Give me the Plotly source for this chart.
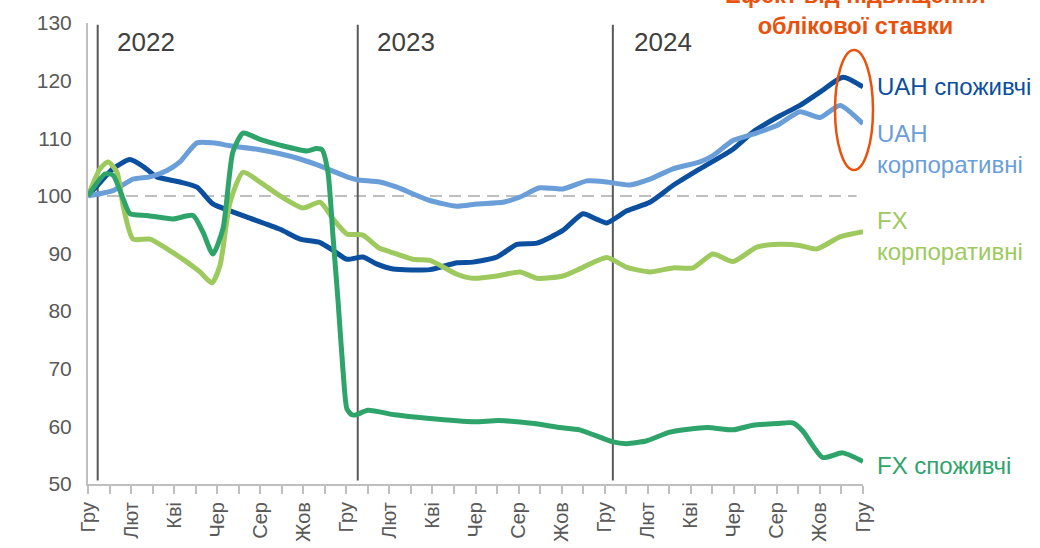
import plotly.graph_objects as go

# ---- data (x in months since Dec 2021) ----
tick_labels = ["Гру", "Лют", "Кві", "Чер", "Сер", "Жов",
               "Гру", "Лют", "Кві", "Чер", "Сер", "Жов",
               "Гру", "Лют", "Кві", "Чер", "Сер", "Жов", "Гру"]

uah_cons_m = [0, 0.6, 1.16, 1.95, 2.6, 3.2, 4.27, 5.06, 5.8, 6.6, 7.39, 8.92, 9.85, 10.78, 11.4,
              12.03, 12.77, 13.4, 14.17, 15.88, 17.14, 17.88, 19.0, 19.93, 20.85, 22.06, 22.99,
              23.6, 24.1, 25.03, 26.1, 27.17, 28.43, 29.96, 30.89, 32.14, 33.07, 34.0, 35.07, 36.0]
uah_cons_v = [100, 102.5, 104.7, 106.3, 105.0, 103.3, 102.4, 101.5, 98.6, 97.4, 96.3, 94.2, 92.5, 91.9, 90.5,
              89.0, 89.4, 88.2, 87.3, 87.2, 88.4, 88.5, 89.4, 91.6, 91.8, 94.0, 96.9,
              96.0, 95.3, 97.4, 98.9, 101.8, 104.7, 108.1, 111.1, 113.9, 115.7, 118.0, 120.6, 118.9]

uah_corp_m = [0, 1.16, 2.09, 2.88, 3.67, 4.27, 5.06, 5.8, 6.6, 7.85, 8.92, 9.85, 10.78, 12.03, 12.5,
              13.56, 14.35, 15.88, 17.14, 18.07, 19.28, 20.07, 20.99, 22.06, 23.18, 24.1, 25.17,
              26.1, 27.17, 28.43, 29.03, 29.96, 30.89, 32.0, 33.07, 34.0, 34.93, 36.0]
uah_corp_v = [100, 100.9, 102.9, 103.3, 104.4, 105.9, 109.2, 109.2, 108.7, 108.1, 107.3, 106.4, 105.2, 103.3, 102.8,
              102.4, 101.5, 99.2, 98.2, 98.6, 98.9, 99.8, 101.4, 101.2, 102.6, 102.4, 101.9,
              102.9, 104.7, 105.9, 107.0, 109.6, 110.7, 112.2, 114.6, 113.6, 115.7, 112.5]

fx_corp_m = [0, 0.56, 0.93, 1.35, 1.63, 2.09, 2.88, 3.67, 4.6, 5.2, 5.76, 6.13, 6.6, 7.2, 7.99, 8.92,
             9.99, 10.78, 11.38, 12.03, 12.77, 13.5, 14.03, 15.1, 15.88, 17.14, 17.88, 19.0, 20.07,
             20.85, 22.06, 22.99, 24.1, 25.03, 26.1, 27.17, 28.1, 29.03, 29.96, 31.07, 32.14, 33.07,
             33.86, 34.93, 36.0]
fx_corp_v = [100, 104.7, 105.9, 104.1, 98.3, 92.5, 92.5, 90.8, 88.5, 86.8, 84.9, 87.9, 98.9, 104.1, 102.4, 100,
             97.9, 98.9, 96.0, 93.4, 93.2, 91.0, 90.3, 89.0, 88.8, 86.4, 85.7, 86.1, 86.8,
             85.7, 86.1, 87.6, 89.3, 87.6, 86.8, 87.5, 87.5, 89.9, 88.6, 91.1, 91.6, 91.4,
             90.8, 92.9, 93.8]

fx_cons_m = [0, 0.79, 1.16, 1.63, 1.95, 2.74, 3.95, 4.88, 5.34, 5.8, 6.27, 6.73, 7.2, 7.99, 8.92,
             10.17, 10.6, 10.87, 11.15, 11.38, 11.61, 11.84, 12.03, 12.26, 12.45, 13.0, 14.26, 15.75,
             17.93, 19.09, 20.72, 21.92, 22.84, 24.38, 25.03, 25.96, 27.03, 28.75, 29.96, 30.89,
             32.0, 32.74, 33.2, 34.13, 35.06, 36.0]
fx_cons_v = [100, 103.8, 103.6, 99.5, 96.9, 96.6, 96.0, 96.6, 93.7, 89.9, 94.3, 107.6, 110.9, 109.8, 108.8,
             107.8, 108.2, 108.0, 104.0, 93.0, 82.0, 70.0, 63.0, 62.0, 62.0, 62.8, 62.0, 61.4,
             60.8, 61.0, 60.5, 59.8, 59.4, 57.3, 57.0, 57.5, 59.0, 59.8, 59.4, 60.2,
             60.5, 60.6, 59.2, 54.6, 55.4, 53.9]

year_labels = ["2022", "2023", "2024"]
year_lines_m = [0.45, 12.53, 24.38]

C_DBLUE = "#0b4f9e"
C_LBLUE = "#6a9ed8"
C_LGREEN = "#9dc95e"
C_DGREEN = "#2ea46b"
C_ORANGE = "#e8520c"
FONT = "Liberation Sans, Arial, sans-serif"

fig = go.Figure()
series = [
    (uah_cons_m, uah_cons_v, C_DBLUE),
    (uah_corp_m, uah_corp_v, C_LBLUE),
    (fx_corp_m, fx_corp_v, C_LGREEN),
    (fx_cons_m, fx_cons_v, C_DGREEN),
]
for xm, yv, col in series:
    fig.add_trace(go.Scatter(x=xm, y=yv, mode="lines",
                             line=dict(color=col, width=5, shape="spline", smoothing=0.6),
                             showlegend=False, hoverinfo="skip"))

shapes = []
# dashed reference at 100
shapes.append(dict(type="line", xref="x", yref="y", x0=0, x1=35.7, y0=100, y1=100,
                   line=dict(color="#bfbfbf", width=2, dash="12px,7px"), layer="below"))
for xm in year_lines_m:
    shapes.append(dict(type="line", xref="x", yref="y", x0=xm, x1=xm, y0=50.6, y1=129.7,
                       line=dict(color="#595959", width=2), layer="below"))
# ellipse highlight
shapes.append(dict(type="circle", xref="paper", yref="paper",
                   x0=0.9639, x1=1.0129, y0=0.6811, y1=0.9414,
                   line=dict(color=C_ORANGE, width=2.5)))

annotations = []
for lbl, xp in zip(year_labels, [0.0348, 0.3703, 0.7019]):
    annotations.append(dict(text=lbl, xref="paper", yref="paper", x=xp, y=0.9588,
                            xanchor="left", yanchor="middle", showarrow=False,
                            font=dict(family=FONT, size=26, color="#404040")))

right_labels = [
    ("UAH споживчі", 0.8633, C_DBLUE),
    ("UAH<br>корпоративні", 0.7267, C_LBLUE),
    ("FX<br>корпоративні", 0.5369, C_LGREEN),
    ("FX споживчі", 0.0412, C_DGREEN),
]
for txt, yp, col in right_labels:
    annotations.append(dict(text=txt, xref="paper", yref="paper", x=1.016, y=yp,
                            xanchor="left", yanchor="middle", align="left", showarrow=False,
                            font=dict(family=FONT, size=24, color=col)))

annotations.append(dict(text="<b>Ефект від підвищення<br>облікової ставки</b>",
                        xref="paper", yref="paper", x=0.9897, y=1.028,
                        xanchor="center", yanchor="middle", align="center", showarrow=False,
                        font=dict(family=FONT, size=23.5, color=C_ORANGE)))

tickvals = list(range(37))
ticktext = [tick_labels[i // 2] if i % 2 == 0 else "" for i in tickvals]

fig.update_layout(
    width=1040, height=548,
    margin=dict(l=88, r=177, t=23, b=64, autoexpand=False),
    paper_bgcolor="white", plot_bgcolor="white",
    shapes=shapes, annotations=annotations,
    font=dict(family=FONT),
    xaxis=dict(range=[0, 36], tickmode="array", tickvals=tickvals, ticktext=ticktext,
               tickangle=-90, ticks="outside", ticklen=8, tickwidth=2, tickcolor="#bfbfbf",
               showline=True, linecolor="#bfbfbf", linewidth=2, showgrid=False, zeroline=False,
               tickfont=dict(family=FONT, size=20, color="#595959")),
    yaxis=dict(range=[50, 130], dtick=10, tick0=50, ticks="outside", ticklen=10,
               tickcolor="rgba(0,0,0,0)", showline=True, linecolor="#bfbfbf", linewidth=2,
               showgrid=False, zeroline=False,
               tickfont=dict(family=FONT, size=21, color="#595959")),
)

fig.write_html("out.html", config={"displayModeBar": False},
               post_script="document.body.style.margin='0';")
